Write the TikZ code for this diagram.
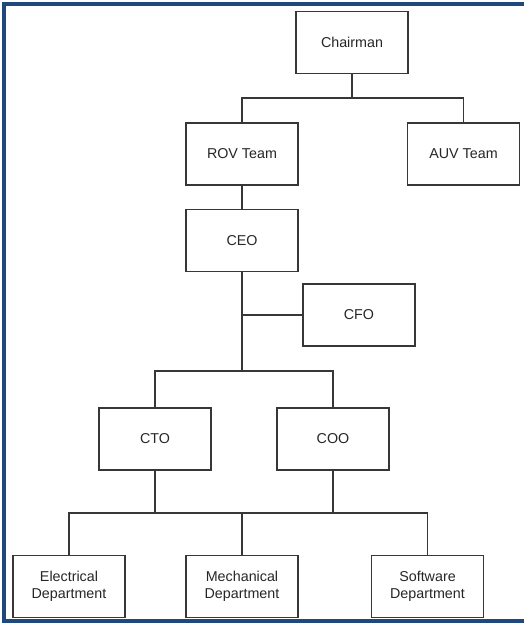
\documentclass[tikz,border=0pt]{standalone}
\usepackage{fontspec}
\setmainfont{Liberation Sans}
\definecolor{frameblue}{RGB}{31,73,125}
\definecolor{linegray}{RGB}{55,55,55}
\begin{document}
\begin{tikzpicture}[x=1pt,y=-1pt,
  orgbox/.style={draw=linegray,line width=1.2pt,fill=white,minimum width=112pt,minimum height=62pt,inner sep=2pt,align=center,font=\fontsize{14.3}{17}\selectfont,text=black!85},
  link/.style={draw=linegray,line width=1.2pt}]
\useasboundingbox (0,0) rectangle (524,623);
\fill[white] (0,0) rectangle (524,623);
\draw[frameblue,line width=4pt] (524,4) -- (4,4) -- (4,621) -- (524,621);
\node[orgbox] (chair) at (352,42.5) {Chairman};
\node[orgbox] (rov) at (242,154) {ROV Team};
\node[orgbox] (auv) at (463.5,154) {AUV Team};
\node[orgbox] (ceo) at (242,240.7) {CEO};
\node[orgbox] (cfo) at (359,315) {CFO};
\node[orgbox] (cto) at (155,439) {CTO};
\node[orgbox] (coo) at (333,439) {COO};
\node[orgbox] (elec) at (69,586.5) {Electrical\\Department};
\node[orgbox] (mech) at (242,586.5) {Mechanical\\Department};
\node[orgbox] (soft) at (427.5,586.5) {Software\\Department};
\coordinate (j1) at (352,98);
\coordinate (j2) at (242,371);
\coordinate (j3) at (242,513);
\draw[link] (chair) -- (j1);
\draw[link] (rov.north) |- (j1) -| (auv.north);
\draw[link] (rov) -- (ceo);
\draw[link] (ceo.south) -- (j2);
\draw[link] (cfo.west) -- (cfo.west -| ceo.south);
\draw[link] (cto.north) |- (j2) -| (coo.north);
\draw[link] (cto.south) -- (cto.south |- j3);
\draw[link] (coo.south) -- (coo.south |- j3);
\draw[link] (elec.north) |- (j3) -| (soft.north);
\draw[link] (mech.north) -- (j3);
\end{tikzpicture}
\end{document}
